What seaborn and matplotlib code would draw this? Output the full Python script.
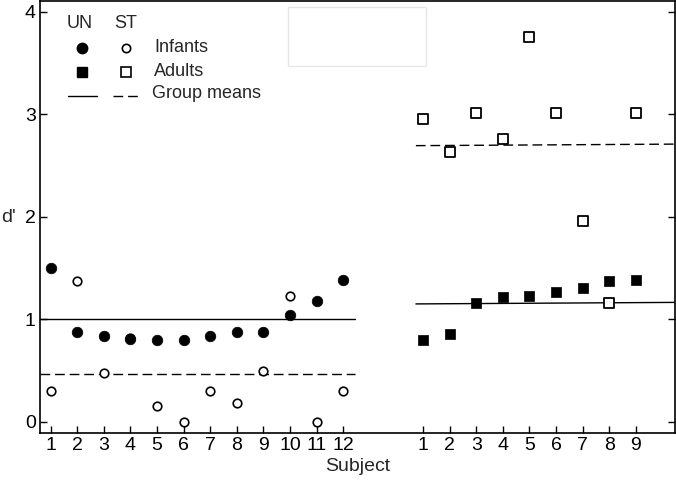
import matplotlib
matplotlib.use('Agg')
import matplotlib.pyplot as plt
import matplotlib.patches as patches
import pandas as pd
import seaborn as sns

# valores
infant_subjects = list(range(1, 13))
infant_un = [1.50, 0.88, 0.84, 0.81, 0.80, 0.80, 0.84, 0.88, 0.88, 1.04, 1.18, 1.38]
infant_st = [0.30, 1.37, 0.48, 0.82, 0.15, 0.00, 0.30, 0.18, 0.50, 1.23, 0.00, 0.30]
adult_subjects = list(range(1, 10))
adult_un = [0.80, 0.86, 1.16, 1.22, 1.23, 1.27, 1.31, 1.37, 1.38]
adult_st = [2.96, 2.63, 3.01, 2.76, 3.76, 3.01, 1.96, 1.16, 3.01]
infant_means = {'UN': 1.0, 'ST': 0.47}
adult_means = {'UN': (1.15, 1.165), 'ST': (2.695, 2.71)}

adult_offset = 14  # adultos ficam depois de um espaço no eixo x

df_inf = pd.DataFrame({'x': infant_subjects, 'UN': infant_un, 'ST': infant_st})
df_ad = pd.DataFrame({'x': [s + adult_offset for s in adult_subjects], 'UN': adult_un, 'ST': adult_st})

sns.set_style('ticks')
plt.rcParams['font.family'] = ['Liberation Sans', 'DejaVu Sans']

fig = plt.figure(figsize=(6.76, 4.82), dpi=100)
ax = fig.add_axes([40 / 676, 1 - 433 / 482, 635 / 676, 432 / 482])

dash = (0, (7, 3.5))

# linhas das médias
ax.plot([0.6, 12.45], [infant_means['UN']] * 2, color='black', lw=1.0, zorder=1)
ax.plot([0.6, 12.45], [infant_means['ST']] * 2, color='black', lw=1.0, ls=dash, zorder=1)
ax.plot([14.73, 24.5], adult_means['UN'], color='black', lw=1.0, zorder=1)
ax.plot([14.73, 24.5], adult_means['ST'], color='black', lw=1.0, ls=dash, zorder=1)

# pontos
sns.scatterplot(data=df_inf, x='x', y='ST', marker='o', s=38, facecolor='white',
                edgecolor='black', linewidth=1.2, ax=ax, zorder=3)
sns.scatterplot(data=df_inf, x='x', y='UN', marker='o', s=58, color='black',
                edgecolor='black', linewidth=0.5, ax=ax, zorder=4)
sns.scatterplot(data=df_ad, x='x', y='ST', marker='s', s=48, facecolor='white',
                edgecolor='black', linewidth=1.3, ax=ax, zorder=3)
sns.scatterplot(data=df_ad, x='x', y='UN', marker='s', s=58, color='black',
                edgecolor='black', linewidth=0.5, ax=ax, zorder=4)

ax.set_xlim(0.6, 24.47)
ax.set_ylim(-0.11, 4.107)
ax.set_xticks(infant_subjects + [s + adult_offset for s in adult_subjects])
ax.set_xticklabels([str(s) for s in infant_subjects] + [str(s) for s in adult_subjects])
ax.set_yticks([0, 1, 2, 3, 4])
ax.tick_params(axis='both', direction='in', length=5, width=1, labelsize=14, colors='black')
ax.tick_params(axis='y', right=True, left=True, pad=3)
ax.tick_params(axis='x', pad=3)
for sp in ax.spines.values():
    sp.set_visible(True)
    sp.set_linewidth(1.2)
    sp.set_color('black')

ax.set_xlabel('Subject', fontsize=14, labelpad=3)
ax.set_ylabel("d'", fontsize=14, rotation=0, va='center', ha='center')
ax.yaxis.set_label_coords(-0.049, 0.5)

# legenda montada à mão
tr = ax.transAxes
def fx(px):
    return (px - 40) / 635
def fy(py):
    return (433 - py) / 432
ax.text(fx(80), fy(23), 'UN', fontsize=13, ha='center', va='center', transform=tr)
ax.text(fx(126), fy(23), 'ST', fontsize=13, ha='center', va='center', transform=tr)
ax.plot([fx(81.5)], [fy(47.5)], 'o', ms=7.5, color='black', transform=tr)
ax.plot([fx(125.5)], [fy(47.5)], 'o', ms=6, mfc='white', mec='black', mew=1.2, transform=tr)
ax.plot([fx(81.5)], [fy(72)], 's', ms=7, color='black', transform=tr)
ax.plot([fx(125.5)], [fy(72)], 's', ms=6.5, mfc='white', mec='black', mew=1.2, transform=tr)
ax.plot([fx(68), fx(97)], [fy(96)] * 2, color='black', lw=1.0, transform=tr)
ax.plot([fx(113), fx(138)], [fy(96)] * 2, color='black', lw=1.0, ls=dash, transform=tr)
ax.text(fx(154), fy(47), 'Infants', fontsize=13, ha='left', va='center', transform=tr)
ax.text(fx(154), fy(72), 'Adults', fontsize=13, ha='left', va='center', transform=tr)
ax.text(fx(152), fy(93), 'Group means', fontsize=13, ha='left', va='center', transform=tr)

# caixa vazia clara no topo
ax.add_patch(patches.Rectangle((fx(288), fy(66)), fx(426) - fx(288), fy(7) - fy(66),
                               transform=tr, fill=False, edgecolor='#e6e6e6', lw=1.0))

fig.savefig('out.png', dpi=100)
